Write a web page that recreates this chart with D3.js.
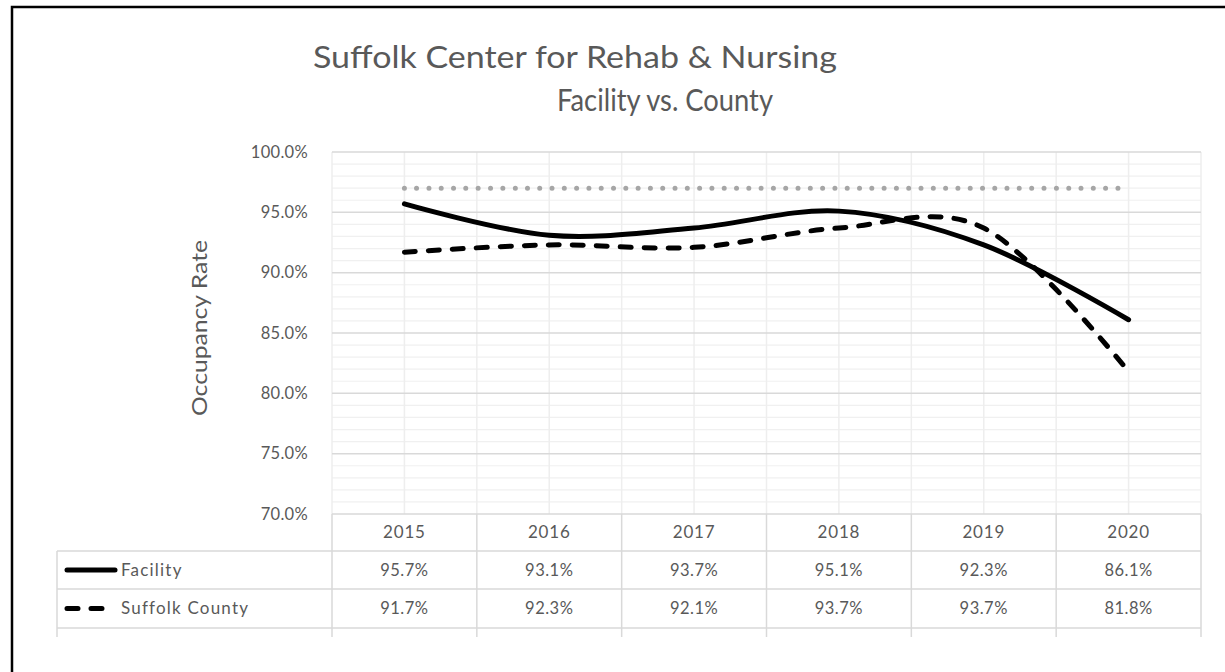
<!DOCTYPE html>
<html>
<head>
<meta charset="utf-8">
<script src="https://cdn.jsdelivr.net/npm/d3@7"></script>
<style>
  body { margin: 0; background: #fff; }
  svg { display: block; font-family: Lato, "Open Sans", sans-serif; }
</style>
</head>
<body>
<svg id="chart" width="1225" height="672"></svg>
<script>
const years = ["2015", "2016", "2017", "2018", "2019", "2020"];
const facility = [95.7, 93.1, 93.7, 95.1, 92.3, 86.1];
const county = [91.7, 92.3, 92.1, 93.7, 93.7, 81.8];
const target = [97, 97, 97, 97, 97, 97];
const yTicks = [70, 75, 80, 85, 90, 95, 100];

const seriesRows = [
  { name: "Facility", values: facility, dash: null },
  { name: "Suffolk County", values: county, dash: "11 13" },
];

const svg = d3.select("#chart");
const textColor = "#595959";

// outer frame
svg
  .append("rect")
  .attr("x", 12)
  .attr("y", 7)
  .attr("width", 1240)
  .attr("height", 700)
  .attr("fill", "none")
  .attr("stroke", "#000")
  .attr("stroke-width", 2.5);

// title (two lines, centred separately like the original)
const title = svg
  .append("text")
  .attr("fill", textColor)
  .attr("font-size", 31)
  .attr("text-anchor", "middle");
title
  .append("tspan")
  .attr("x", 575)
  .attr("y", 68)
  .attr("textLength", 524)
  .attr("lengthAdjust", "spacingAndGlyphs")
  .text("Suffolk Center for Rehab & Nursing");
title
  .append("tspan")
  .attr("x", 665)
  .attr("y", 111)
  .attr("textLength", 216)
  .attr("lengthAdjust", "spacingAndGlyphs")
  .text("Facility vs. County");

const plotLeft = 332;
const plotRight = 1201;
const plotTop = 152;
const plotBottom = 514;

const x = d3.scaleBand().domain(years).range([plotLeft, plotRight]);
const y = d3.scaleLinear().domain([70, 100]).range([plotBottom, plotTop]);
const cx = (d) => x(d) + x.bandwidth() / 2;

// minor horizontal grid (every 1%)
svg
  .append("g")
  .selectAll("line")
  .data(d3.range(70, 101).filter((v) => v % 5 !== 0))
  .enter()
  .append("line")
  .attr("x1", plotLeft)
  .attr("x2", plotRight)
  .attr("y1", (d) => y(d))
  .attr("y2", (d) => y(d))
  .attr("stroke", "#f0f0f0")
  .attr("stroke-width", 1.2);

// vertical grid: category edges and centres
const vx = [];
years.forEach((yr) => {
  vx.push(x(yr));
  vx.push(cx(yr));
});
vx.push(plotRight);
svg
  .append("g")
  .selectAll("line")
  .data(vx)
  .enter()
  .append("line")
  .attr("x1", (d) => d)
  .attr("x2", (d) => d)
  .attr("y1", plotTop)
  .attr("y2", plotBottom)
  .attr("stroke", "#eeeeee")
  .attr("stroke-width", 1.5);

// major horizontal grid
svg
  .append("g")
  .selectAll("line")
  .data(yTicks.filter((v) => v !== 70))
  .enter()
  .append("line")
  .attr("x1", plotLeft)
  .attr("x2", plotRight)
  .attr("y1", (d) => y(d))
  .attr("y2", (d) => y(d))
  .attr("stroke", "#d9d9d9")
  .attr("stroke-width", 1.5);

// y axis labels
svg
  .append("g")
  .selectAll("text")
  .data(yTicks)
  .enter()
  .append("text")
  .attr("x", 308)
  .attr("y", (d) => y(d))
  .attr("dy", "0.35em")
  .attr("text-anchor", "end")
  .attr("fill", textColor)
  .attr("font-size", 16.5)
  .attr("letter-spacing", 0.3)
  .text((d) => d.toFixed(1) + "%");

svg
  .append("text")
  .attr("transform", "translate(207,328) rotate(-90)")
  .attr("text-anchor", "middle")
  .attr("fill", textColor)
  .attr("font-size", 21)
  .attr("textLength", 176)
  .attr("lengthAdjust", "spacingAndGlyphs")
  .text("Occupancy Rate");

// lines
const line = d3
  .line()
  .x((d, i) => cx(years[i]))
  .y((d) => y(d))
  .curve(d3.curveCardinal.tension(0));

svg
  .append("path")
  .datum(target)
  .attr("d", line)
  .attr("fill", "none")
  .attr("stroke", "#a6a6a6")
  .attr("stroke-width", 5)
  .attr("stroke-linecap", "round")
  .attr("stroke-dasharray", "0 12.3");

seriesRows.forEach((s) => {
  svg
    .append("path")
    .datum(s.values)
    .attr("d", line)
    .attr("fill", "none")
    .attr("stroke", "#000")
    .attr("stroke-width", 5)
    .attr("stroke-linecap", "round")
    .attr("stroke-dasharray", s.dash);
});

// data table
const rowTop = [514, 551, 589, 628];
const tableLeft = 57;
const border = "#d9d9d9";
const table = svg.append("g").attr("stroke", border).attr("stroke-width", 1.5);

table.append("line").attr("x1", plotLeft).attr("x2", plotRight).attr("y1", rowTop[0]).attr("y2", rowTop[0]);
[1, 2, 3].forEach((i) => {
  table.append("line").attr("x1", tableLeft).attr("x2", plotRight).attr("y1", rowTop[i]).attr("y2", rowTop[i]);
});
table.append("line").attr("x1", tableLeft).attr("x2", tableLeft).attr("y1", rowTop[1]).attr("y2", 637);
table
  .selectAll(".col")
  .data(vx.filter((d, i) => i % 2 === 0))
  .enter()
  .append("line")
  .attr("x1", (d) => d)
  .attr("x2", (d) => d)
  .attr("y1", rowTop[0])
  .attr("y2", 637);

svg
  .append("g")
  .selectAll("text")
  .data(years)
  .enter()
  .append("text")
  .attr("x", (d) => cx(d))
  .attr("y", (rowTop[0] + rowTop[1]) / 2)
  .attr("dy", "0.35em")
  .attr("text-anchor", "middle")
  .attr("fill", textColor)
  .attr("font-size", 17)
  .attr("letter-spacing", 0.8)
  .text((d) => d);

seriesRows.forEach((s, r) => {
  const mid = (rowTop[r + 1] + rowTop[r + 2]) / 2;
  svg
    .append("line")
    .attr("x1", 67)
    .attr("x2", 115)
    .attr("y1", mid)
    .attr("y2", mid)
    .attr("stroke", "#000")
    .attr("stroke-width", 5)
    .attr("stroke-linecap", "round")
    .attr("stroke-dasharray", s.dash);
  svg
    .append("text")
    .attr("x", 121)
    .attr("y", mid)
    .attr("dy", "0.35em")
    .attr("fill", textColor)
    .attr("font-size", 17)
    .attr("letter-spacing", 1.2)
    .text(s.name);
  svg
    .append("g")
    .selectAll("text")
    .data(s.values)
    .enter()
    .append("text")
    .attr("x", (d, i) => cx(years[i]))
    .attr("y", mid)
    .attr("dy", "0.35em")
    .attr("text-anchor", "middle")
    .attr("fill", textColor)
    .attr("font-size", 16.5)
    .attr("letter-spacing", 0.5)
    .text((d) => d.toFixed(1) + "%");
});
</script>
</body>
</html>
